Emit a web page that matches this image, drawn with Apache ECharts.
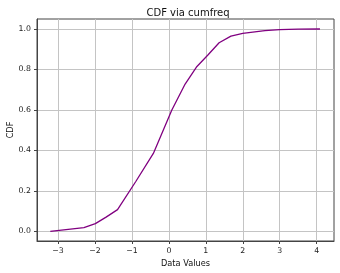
<!DOCTYPE html>
<html>
<head>
<meta charset="utf-8">
<script src="https://cdn.jsdelivr.net/npm/echarts@6/dist/echarts.min.js"></script>
<style>html,body{margin:0;padding:0;background:#fff;}#c{width:340px;height:273px;}</style>
</head>
<body>
<div id="c"></div>
<script>
const xValues = [-3.21, -2.30, -1.99, -1.70, -1.39, -0.90, -0.42, 0.08, 0.44, 0.76, 1.05, 1.36, 1.68, 2.00, 2.60, 3.00, 3.50, 4.09];
const cdfValues = [0.000, 0.018, 0.038, 0.070, 0.107, 0.245, 0.385, 0.600, 0.728, 0.815, 0.870, 0.932, 0.965, 0.978, 0.992, 0.997, 0.999, 1.000];
const titleText = 'CDF via cumfreq';
const xName = 'Data Values';
const yName = 'CDF';

const font = 'DejaVu Sans';
const chart = echarts.init(document.getElementById('c'), null, {renderer: 'canvas'});
chart.setOption({
  animation: false,
  backgroundColor: '#ffffff',
  title: {
    text: titleText,
    left: 183, top: 3, textAlign: 'center',
    textStyle: {fontFamily: font, fontSize: 10, fontWeight: 'normal', color: '#111'}
  },
  grid: {left: 37, right: 6, top: 19, bottom: 32, containLabel: false, outerBoundsMode: 'none',
    show: true, borderColor: '#444', borderWidth: 1, backgroundColor: 'transparent'},
  xAxis: {
    type: 'value', min: -3.57, max: 4.47, splitNumber: 8, minInterval: 1, maxInterval: 1,
    name: xName, nameLocation: 'middle', nameGap: 19, nameMoveOverlap: false,
    nameTextStyle: {fontFamily: font, fontSize: 8.2, color: '#111'},
    axisLine: {show: true, onZero: false, lineStyle: {color: '#444', width: 1}},
    axisTick: {show: true, length: 3, lineStyle: {color: '#444'}},
    axisLabel: {fontFamily: font, fontSize: 7.8, color: '#222', margin: 6, showMinLabel: false, showMaxLabel: false,
      formatter: v => (v < 0 ? '\u2212' + Math.abs(v) : String(v))},
    splitLine: {show: true, showMinLine: false, showMaxLine: false, lineStyle: {color: '#c4c4c4', width: 1}}
  },
  yAxis: {
    type: 'value', min: -0.048, max: 1.0495, splitNumber: 5, minInterval: 0.2, maxInterval: 0.2,
    name: yName, nameLocation: 'middle', nameGap: 22, nameRotate: 90, nameMoveOverlap: false,
    nameTextStyle: {fontFamily: font, fontSize: 8.2, color: '#111'},
    axisLine: {show: true, onZero: false, lineStyle: {color: '#444', width: 1}},
    axisTick: {show: true, length: 3, lineStyle: {color: '#444'}},
    axisLabel: {fontFamily: font, fontSize: 7.8, color: '#222', margin: 6, showMinLabel: false, showMaxLabel: false,
      formatter: v => v.toFixed(1)},
    splitLine: {show: true, showMinLine: false, showMaxLine: false, lineStyle: {color: '#c4c4c4', width: 1}}
  },
  series: [{
    type: 'line',
    data: xValues.map((x, i) => [x, cdfValues[i]]),
    showSymbol: false, symbol: 'none',
    lineStyle: {color: '#800080', width: 1.3},
    itemStyle: {color: '#800080'}
  }]
});
</script>
</body>
</html>
